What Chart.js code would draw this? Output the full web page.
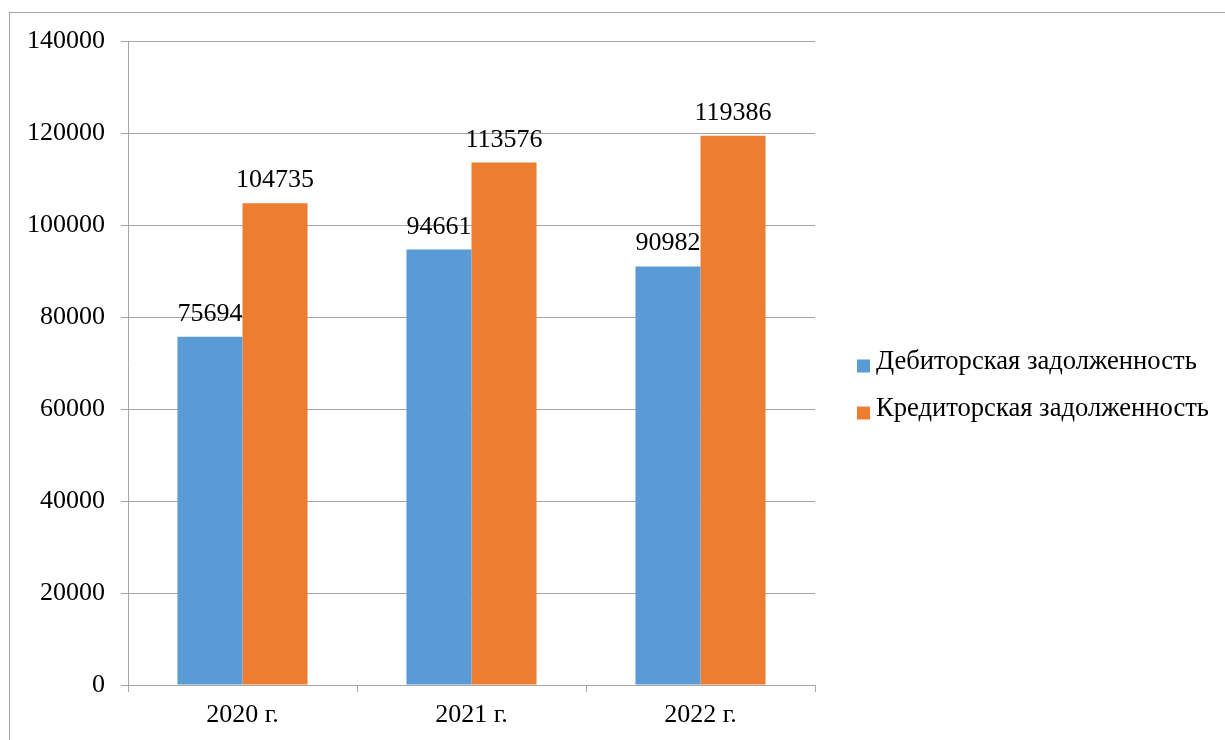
<!DOCTYPE html>
<html>
<head>
<meta charset="utf-8">
<script src="https://cdn.jsdelivr.net/npm/chart.js@4.4.1/dist/chart.umd.min.js"></script>
<style>
  body { margin: 0; background: #fff; }
  #frame { position: absolute; left: 9px; top: 12px; width: 1300px; height: 800px;
           border-left: 1px solid #a6a6a6; border-top: 1px solid #a6a6a6; }
  #wrap { position: absolute; left: 0; top: 0; width: 1225px; height: 740px; }
</style>
</head>
<body>
<div id="frame"></div>
<div id="wrap"><canvas id="myChart" width="1225" height="740"></canvas></div>
<script>
var years = ['2020 г.', '2021 г.', '2022 г.'];
var debitValues = [75694, 94661, 90982];
var creditValues = [104735, 113576, 119386];
var seriesNames = ['Дебиторская задолженность', 'Кредиторская задолженность'];
var yTicks = [0, 20000, 40000, 60000, 80000, 100000, 120000, 140000];

var font = 'Liberation Serif, Times New Roman, serif';
var gridColor = '#a6a6a6';

// labels over the bars
var barLabels = {
    id: 'barLabels',
    afterDatasetsDraw: function(chart) {
        var c = chart.ctx;
        c.save();
        c.font = '26px ' + font;
        c.fillStyle = '#000';
        c.textAlign = 'center';
        c.textBaseline = 'alphabetic';
        chart.data.datasets.forEach(function(ds, i) {
            chart.getDatasetMeta(i).data.forEach(function(bar, j) {
                c.fillText(String(ds.data[j]), bar.x, bar.y - 16);
            });
        });
        c.restore();
    }
};

// legend on the right, like the excel one
var sideLegend = {
    id: 'sideLegend',
    afterDraw: function(chart) {
        var c = chart.ctx;
        c.save();
        c.font = '26.6px ' + font;
        c.textBaseline = 'middle';
        c.textAlign = 'left';
        chart.data.datasets.forEach(function(ds, i) {
            var y = 366 + i * 47;
            c.fillStyle = ds.backgroundColor;
            c.fillRect(857, y - 6.5, 13, 13);
            c.fillStyle = '#000';
            c.fillText(ds.label, 876, y - 4);
        });
        c.restore();
    }
};

var ctx = document.getElementById('myChart').getContext('2d');
var myChart = new Chart(ctx, {
    type: 'bar',
    data: {
        labels: years,
        datasets: [{
            label: seriesNames[0],
            data: debitValues,
            backgroundColor: '#5b9bd5',
            borderWidth: 0
        }, {
            label: seriesNames[1],
            data: creditValues,
            backgroundColor: '#ed7d31',
            borderWidth: 0
        }]
    },
    options: {
        responsive: false,
        animation: false,
        layout: { padding: { left: 0, top: 41, right: 410, bottom: 0 } },
        plugins: {
            legend: { display: false },
            tooltip: { enabled: false }
        },
        datasets: {
            bar: { categoryPercentage: 0.568, barPercentage: 1 }
        },
        scales: {
            x: {
                afterFit: function(s) { s.height = 55; },
                grid: { offset: true, drawOnChartArea: false, tickLength: 7, color: gridColor },
                border: { display: true, color: gridColor },
                ticks: { color: '#000', font: { family: font, size: 26 }, padding: 8 }
            },
            y: {
                min: 0,
                max: 140000,
                afterFit: function(s) { s.width = 128; },
                afterBuildTicks: function(s) {
                    s.ticks = yTicks.map(function(v) { return { value: v }; });
                },
                grid: { color: gridColor, tickLength: 7 },
                border: { display: true, color: gridColor },
                ticks: {
                    color: '#000',
                    font: { family: font, size: 26 },
                    padding: 16,
                    callback: function(v) { return String(v); }
                }
            }
        }
    },
    plugins: [barLabels, sideLegend]
});
</script>
</body>
</html>
